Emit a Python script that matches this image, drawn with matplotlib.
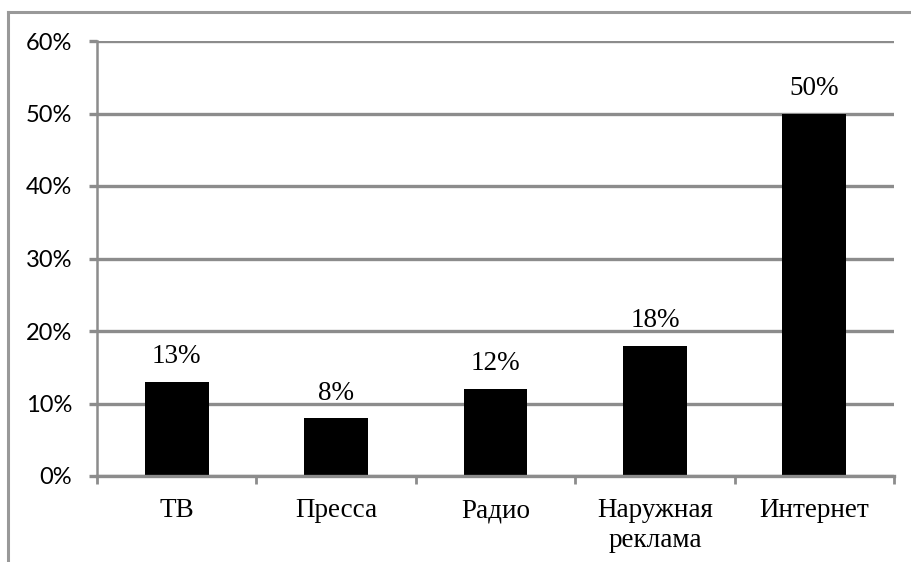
import matplotlib
matplotlib.use("Agg")
import matplotlib.pyplot as plt
from matplotlib.lines import Line2D
from matplotlib.ticker import FuncFormatter

categories = ["ТВ", "Пресса", "Радио", "Наружная\nреклама", "Интернет"]
shares = [13, 8, 12, 18, 50]
y_ticks = [0, 10, 20, 30, 40, 50, 60]

grey = "#8c8c8c"

fig = plt.figure(figsize=(9.12, 5.62), dpi=100)
ax = fig.add_axes([97 / 912, 1 - 476 / 562, (894 - 97) / 912, (476 - 41) / 562])

x = list(range(len(categories)))
ax.bar(x, shares, width=0.4, color="black", zorder=3)

for xi, v in zip(x, shares):
    ax.annotate(f"{v}%", (xi, v), xytext=(0, 9), textcoords="offset points",
                ha="center", va="bottom", fontsize=19.5, family="Liberation Serif")

ax.set_xlim(-0.5, len(categories) - 0.5)
ax.set_ylim(0, 60)
ax.set_yticks(y_ticks)
ax.yaxis.set_major_formatter(FuncFormatter(lambda v, p: f"{int(v)}%"))
ax.grid(axis="y", color=grey, linewidth=2.4, zorder=0)

ax.set_xticks(x)
ax.set_xticklabels(categories, family="Liberation Serif", fontsize=19.5, linespacing=1.25)
ax.set_xticks([i - 0.5 for i in range(len(categories) + 1)], minor=True)
ax.tick_params(axis="x", which="major", length=0, pad=16)
ax.tick_params(axis="x", which="minor", length=6, width=2, color=grey)
ax.tick_params(axis="y", length=6, width=2.4, color=grey, pad=12, labelsize=17)
for lab in ax.get_yticklabels():
    lab.set_family("Lato")

for side in ["top", "right"]:
    ax.spines[side].set_visible(False)
ax.spines["left"].set_color(grey)
ax.spines["left"].set_linewidth(1.8)
ax.spines["bottom"].set_color(grey)
ax.spines["bottom"].set_linewidth(2.4)
ax.spines["bottom"].set_zorder(4)

# outer frame (top and left edges only, as in the crop)
fig.add_artist(Line2D([8 / 912, 1], [1 - 12 / 562, 1 - 12 / 562], color="#999999", linewidth=2.2))
fig.add_artist(Line2D([8 / 912, 8 / 912], [0, 1 - 12 / 562], color="#999999", linewidth=2.2))

fig.savefig("out.png", dpi=100)
